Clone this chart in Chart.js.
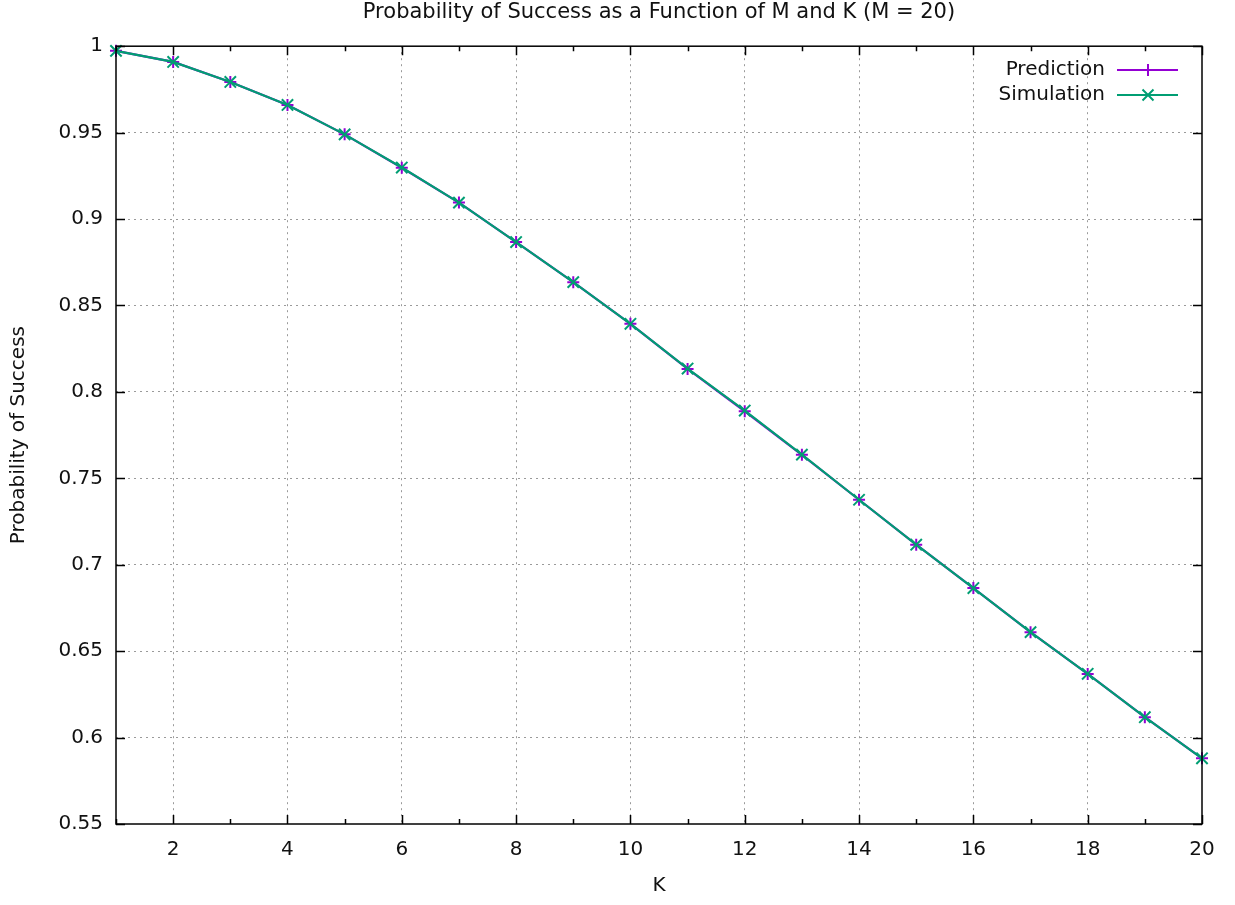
<!DOCTYPE html>
<html><head><meta charset="utf-8">
<script src="https://cdn.jsdelivr.net/npm/chart.js@4.4.1/dist/chart.umd.min.js"></script>
<style>html,body{margin:0;padding:0;background:#fff;}</style>
</head><body>
<canvas id="c" width="1235" height="905"></canvas>
<script>
const kValues = [1,2,3,4,5,6,7,8,9,10,11,12,13,14,15,16,17,18,19,20];
const prediction = [0.9973,0.9909,0.9793,0.9660,0.9490,0.9297,0.9095,0.8867,0.8635,0.8394,0.8133,0.7888,0.7636,0.7376,0.7116,0.6865,0.6610,0.6368,0.6118,0.5880];
const simulation = [0.9973,0.9909,0.9793,0.9660,0.9490,0.9298,0.9095,0.8867,0.8635,0.8394,0.8135,0.7892,0.7637,0.7376,0.7116,0.6865,0.6610,0.6369,0.6118,0.5880];
const xTickValues = [1,2,3,4,5,6,7,8,9,10,11,12,13,14,15,16,17,18,19,20];
const yTickValues = [0.55,0.6,0.65,0.7,0.75,0.8,0.85,0.9,0.95,1];
const seriesNames = ['Prediction','Simulation'];
const titleText = 'Probability of Success as a Function of M and K (M = 20)';
const xTitle = 'K';
const yTitle = 'Probability of Success';

const FONT = 'DejaVu Sans';
const TXT = '#111111';
const PURPLE = '#9400d3';
const GREEN = '#009e73';
const GRID = '#9a9a9a';

const framePlugin = {
  id: 'frame',
  afterDatasetsDraw(chart) {
    const {ctx, chartArea: a, scales: {x, y}} = chart;
    ctx.save();
    ctx.strokeStyle = '#000';
    ctx.lineWidth = 1.5;
    ctx.beginPath();
    xTickValues.forEach(v => {
      const px = Math.round(x.getPixelForValue(v)) + 0.5;
      const len = v % 2 === 0 ? 9 : 5;
      ctx.moveTo(px, a.bottom); ctx.lineTo(px, a.bottom - len);
      ctx.moveTo(px, a.top); ctx.lineTo(px, a.top + len);
    });
    yTickValues.forEach(v => {
      const py = Math.round(y.getPixelForValue(v)) + 0.5;
      ctx.moveTo(a.left, py); ctx.lineTo(a.left + 9, py);
      ctx.moveTo(a.right, py); ctx.lineTo(a.right - 9, py);
    });
    ctx.stroke();
    ctx.strokeRect(a.left, a.top, a.right - a.left, a.bottom - a.top);

    // legend
    const rows = [
      {name: seriesNames[0], color: PURPLE, style: 'cross', y: 70},
      {name: seriesNames[1], color: GREEN, style: 'crossRot', y: 95}
    ];
    ctx.font = '20px "' + FONT + '"';
    ctx.textAlign = 'right';
    ctx.textBaseline = 'middle';
    rows.forEach(r => {
      ctx.fillStyle = TXT;
      ctx.fillText(r.name, 1105, r.y);
      ctx.strokeStyle = r.color;
      ctx.lineWidth = 2;
      ctx.beginPath();
      ctx.moveTo(1117, r.y); ctx.lineTo(1178, r.y);
      const cx = 1148;
      if (r.style === 'cross') {
        ctx.moveTo(cx, r.y - 6); ctx.lineTo(cx, r.y + 6);
      } else {
        ctx.moveTo(cx - 5.5, r.y - 5.5); ctx.lineTo(cx + 5.5, r.y + 5.5);
        ctx.moveTo(cx - 5.5, r.y + 5.5); ctx.lineTo(cx + 5.5, r.y - 5.5);
      }
      ctx.stroke();
    });
    ctx.restore();
  }
};

const toXY = arr => kValues.map((k, i) => ({x: k, y: arr[i]}));

new Chart(document.getElementById('c'), {
  type: 'line',
  data: {
    datasets: [
      {label: seriesNames[0], data: toXY(prediction), borderColor: PURPLE, backgroundColor: PURPLE,
       borderWidth: 2.2, pointStyle: 'cross', pointRadius: 6, pointBorderWidth: 2, pointHoverRadius: 6,
       fill: false, tension: 0, clip: false, order: 1},
      {label: seriesNames[1], data: toXY(simulation), borderColor: GREEN, backgroundColor: GREEN,
       borderWidth: 2.2, pointStyle: 'crossRot', pointRadius: 8, pointBorderWidth: 2, pointHoverRadius: 8,
       fill: false, tension: 0, clip: false, order: 0}
    ]
  },
  options: {
    responsive: false,
    animation: false,
    devicePixelRatio: 1,
    layout: {padding: {left: 0, right: 33, top: 0, bottom: 0}},
    plugins: {
      legend: {display: false},
      tooltip: {enabled: false},
      title: {display: true, fullSize: false, text: titleText, color: TXT,
              font: {family: FONT, size: 21, weight: 'normal'}, padding: {top: 0, bottom: 21}}
    },
    scales: {
      x: {
        type: 'linear', min: 1, max: 20,
        afterBuildTicks: s => { s.ticks = xTickValues.map(v => ({value: v})); },
        afterFit: s => { s.height = 81; },
        ticks: {autoSkip: false, maxRotation: 0, padding: 14, color: TXT,
                font: {family: FONT, size: 20},
                callback: v => (v % 2 === 0 ? String(v) : '')},
        grid: {drawTicks: false,
               color: c => (c.tick && c.tick.value % 2 === 0 && c.tick.value !== 20) ? GRID : 'rgba(0,0,0,0)',
               lineWidth: 1},
        border: {display: false, dash: [2, 4]},
        title: {display: true, text: xTitle, color: TXT, font: {family: FONT, size: 20},
                padding: {top: 0, bottom: 7}}
      },
      y: {
        type: 'linear', min: 0.55, max: 1,
        afterBuildTicks: s => { s.ticks = yTickValues.map(v => ({value: v})); },
        afterFit: s => { s.width = 116; },
        ticks: {padding: 13, color: TXT, font: {family: FONT, size: 20},
                callback: v => String(+Number(v).toFixed(2))},
        grid: {drawTicks: false,
               color: c => (c.tick && c.tick.value > 0.56 && c.tick.value < 0.99) ? GRID : 'rgba(0,0,0,0)',
               lineWidth: 1},
        border: {display: false, dash: [2, 4]},
        title: {display: true, text: yTitle, color: TXT, font: {family: FONT, size: 20},
                padding: {top: 7, bottom: 0}}
      }
    }
  },
  plugins: [framePlugin]
});
</script>
</body></html>
